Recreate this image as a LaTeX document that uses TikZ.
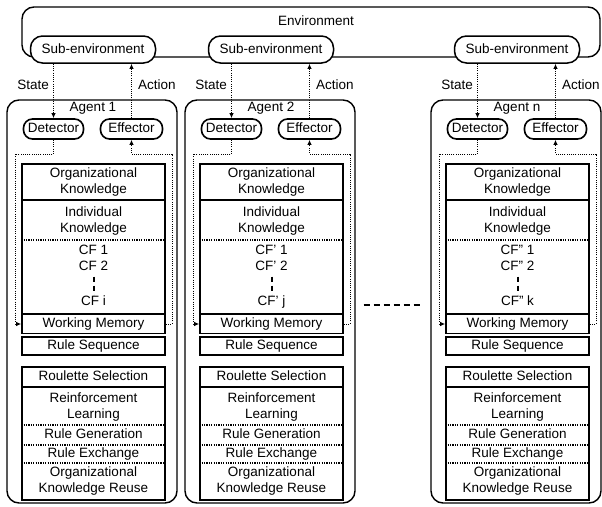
\documentclass[tikz,border=0pt]{standalone}
\usepackage{fontspec}
\setmainfont{Liberation Sans}
\usetikzlibrary{arrows.meta,calc}
\begin{document}
\begin{tikzpicture}[x=1pt,y=-1pt,
  every node/.style={font=\fontsize{13.5}{16}\selectfont, inner sep=1pt, text height=10pt, text depth=3pt},
  multi/.style={align=center, text height=, text depth=},
  envbox/.style={draw, line width=1.4pt, rounded corners=12pt},
  subbox/.style={draw, line width=1.5pt, rounded corners=12pt, fill=white, minimum width=125pt, minimum height=27pt},
  agentbox/.style={draw, line width=1.4pt, rounded corners=12pt, minimum width=170pt, minimum height=403pt},
  debox/.style={draw, line width=1.6pt, rounded corners=9pt, minimum height=20pt},
  inbox/.style={draw, line width=1.6pt, minimum width=143pt},
  sep/.style={line width=1.2pt, dash pattern=on 1.2pt off 1.2pt},
  loopline/.style={line width=1pt, dash pattern=on 1pt off 1.2pt},
  tip/.style={-{Latex[length=5pt,width=4.5pt]}},
  gapdash/.style={line width=1.8pt, dash pattern=on 6pt off 4pt}
]
\useasboundingbox (0,0) rectangle (602,506);
\node[envbox, minimum width=578pt, minimum height=50pt] (env) at (311,32) {};
\node (envlabel) at (316,22) {Environment};
\foreach \L/\n/\cf/\last in {9/1/CF/i, 187/2/CF'/j, 433/n/CF''/k}{
  \begin{scope}[xshift=\L pt]
    \node[subbox] (sub\n) at (84,49.5) {Sub-environment};
    \node[agentbox] (ag\n) at (83,301.5) {};
    \node (lab\n) at (84,108) {Agent \n};
    \node[debox, minimum width=60pt] (det\n) at (44.5,129) {Detector};
    \node[debox, minimum width=62pt] (eff\n) at (122.5,129) {Effector};
    \node[inbox, minimum height=36pt, multi] (ok\n) at (84.5,182) {Organizational\\Knowledge};
    \node[inbox, minimum height=114pt] (ik\n) at (84.5,257) {};
    \node[multi] (ikt\n) at (84.5,221) {Individual\\Knowledge};
    \draw[sep] (ik\n.west |- 0,240) -- (ik\n.east |- 0,240);
    \node (cfa\n) at (84.5,251) {\cf\ 1};
    \node (cfb\n) at (84.5,267) {\cf\ 2};
    \node (cfc\n) at (84.5,302) {\cf\ \last};
    \draw[line width=2pt, dash pattern=on 5pt off 4pt] (cfb\n.south) ++(0,2) -- ++(0,18);
    \node[inbox, minimum height=19pt] (wm\n) at (84.5,324) {Working Memory};
    \node[inbox, minimum height=18pt] (rs\n) at (84.5,346) {Rule Sequence};
    \node[inbox, minimum height=20pt] (rsel\n) at (84.5,377) {Roulette Selection};
    \node[inbox, minimum height=113pt] (low\n) at (84.5,443.5) {};
    \node[multi] (rl\n) at (84.5,407) {Reinforcement\\Learning};
    \draw[sep] (low\n.west |- 0,425) -- (low\n.east |- 0,425);
    \node (rg\n) at (84.5,435) {Rule Generation};
    \draw[sep] (low\n.west |- 0,445) -- (low\n.east |- 0,445);
    \node (rx\n) at (84.5,454) {Rule Exchange};
    \draw[sep] (low\n.west |- 0,463) -- (low\n.east |- 0,463);
    \node[multi] (okr\n) at (84.5,481) {Organizational\\Knowledge Reuse};
    % state / action
    \draw[loopline, tip] (sub\n.south -| det\n.north) -- (det\n.north);
    \draw[loopline, tip] (eff\n.north) -- (eff\n.north |- sub\n.south);
    \node[anchor=east] (st\n) at (41,86) {State};
    \node[anchor=west] (ac\n) at (128,86) {Action};
    % internal loop
    \draw[loopline, tip] (det\n.south) |- (6,154) |- (wm\n.west);
    \draw[loopline, tip] (wm\n.east) -| (163,154) -| (eff\n.south);
  \end{scope}
}
\draw[gapdash] ([shift={(8,3.5)}]ag2.east) -- ([shift={(-10,3.5)}]agn.west);
\end{tikzpicture}
\end{document}
